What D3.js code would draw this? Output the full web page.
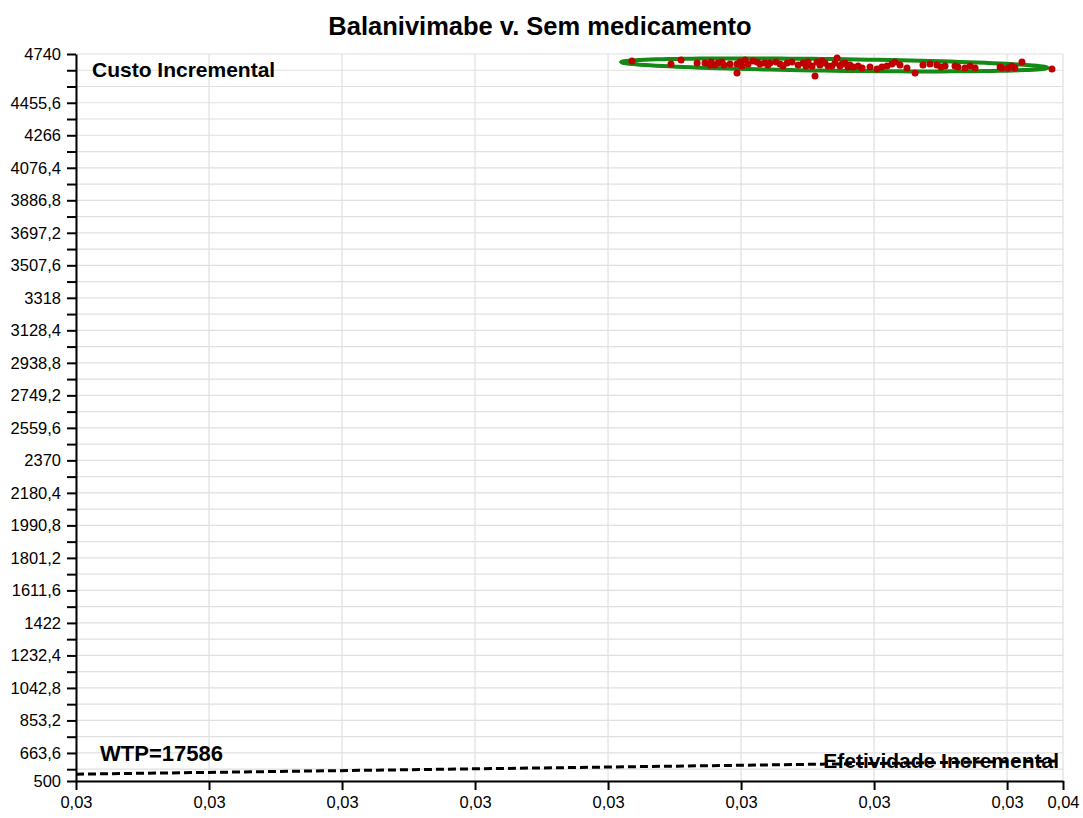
<!DOCTYPE html>
<html lang="pt">
<head>
<meta charset="utf-8">
<title>Balanivimabe v. Sem medicamento</title>
<script src="https://d3js.org/d3.v7.min.js"></script>
<style>
  body { margin: 0; background: #fff; }
  svg text { font-family: "Liberation Sans", Arial, Helvetica, sans-serif; fill: #000; }
  .grid line { stroke: #e0e0e0; stroke-width: 1.2; }
  .axis path, .axis line { stroke: #000; stroke-width: 2; }
  .axis text { font-size: 16.5px; }
  .big { font-weight: bold; font-size: 21px; }
</style>
</head>
<body>
<script>
// incremental effect (x) and incremental cost (y) of each simulation
var effect = [0.033166, 0.033339, 0.033384, 0.033455, 0.033490, 0.033517, 0.033534, 0.033565, 0.033574, 0.033601,
  0.033632, 0.033632, 0.033645, 0.033668, 0.033681, 0.033703, 0.033721, 0.033734, 0.033756, 0.033778,
  0.033805, 0.033823, 0.033854, 0.033876, 0.033903, 0.033925, 0.033947, 0.033965, 0.033978, 0.033987,
  0.034000, 0.034022, 0.034036, 0.034067, 0.034076, 0.034089, 0.034111, 0.034133, 0.034147, 0.034187,
  0.034222, 0.034253, 0.034275, 0.034297, 0.034319, 0.034333, 0.034355, 0.034386, 0.034422, 0.034457,
  0.034488, 0.034519, 0.034537, 0.034555, 0.034599, 0.034612, 0.034643, 0.034688, 0.034807, 0.034834,
  0.034865, 0.034896, 0.035029, 0.033512, 0.033548, 0.033654, 0.033769, 0.033836, 0.033938, 0.034009,
  0.034053, 0.034098, 0.034124, 0.034169, 0.034666, 0.034852, 0.034799];
var cost = [4699.2, 4681.7, 4705.0, 4687.5, 4687.5, 4693.4, 4675.9, 4693.4, 4675.9, 4681.7,
  4681.7, 4629.2, 4693.4, 4705.0, 4681.7, 4699.2, 4693.4, 4681.7, 4687.5, 4687.5,
  4693.4, 4681.7, 4687.5, 4693.4, 4675.9, 4687.5, 4693.4, 4670.0, 4611.8, 4693.4,
  4675.9, 4687.5, 4670.0, 4687.5, 4716.7, 4670.0, 4687.5, 4675.9, 4664.2, 4658.4,
  4664.2, 4652.5, 4664.2, 4670.0, 4681.7, 4693.4, 4675.9, 4658.4, 4629.2, 4675.9,
  4681.7, 4675.9, 4664.2, 4670.0, 4670.0, 4664.2, 4658.4, 4658.4, 4658.4, 4658.4,
  4658.4, 4693.4, 4652.5, 4675.9, 4687.5, 4670.0, 4675.9, 4670.0, 4670.0, 4699.2,
  4670.0, 4681.7, 4664.2, 4670.0, 4670.0, 4670.0, 4664.2];

var wtp = 17586; //willingness to pay threshold

// axis settings
var xDomain = [0.0307, 0.035078];
var xStep = 0.00059;
var yDomain = [500, 4740];
var yStep = 94.8;
// y values that get a label (the others only get a tick)
var yLabelled = [4740, 4455.6, 4266, 4076.4, 3886.8, 3697.2, 3507.6, 3318, 3128.4, 2938.8, 2749.2,
  2559.6, 2370, 2180.4, 1990.8, 1801.2, 1611.6, 1422, 1232.4, 1042.8, 853.2, 663.6, 500];

var width = 1083, height = 818;
var margin = {top: 54, right: 20, bottom: 37, left: 76};

var svg = d3.select("body").append("svg")
  .attr("width", width)
  .attr("height", height);

var x = d3.scaleLinear().domain(xDomain).range([margin.left, width - margin.right]);
var y = d3.scaleLinear().domain(yDomain).range([height - margin.bottom, margin.top]);

// tick positions
var xTicks = d3.range(0, 8).map(function(i){ return xDomain[0] + i * xStep; });
xTicks.push(xDomain[1]);
var yTicks = [];
for (var v = yDomain[1]; v > yDomain[0] + 1e-6; v -= yStep) yTicks.push(+v.toFixed(1));
yTicks.push(yDomain[0]);

function comma(s){ return s.replace(".", ","); }

// grid
var grid = svg.append("g").attr("class", "grid");
grid.selectAll(".h").data(yTicks).enter().append("line")
  .attr("x1", margin.left).attr("x2", width - margin.right)
  .attr("y1", function(d){ return y(d); }).attr("y2", function(d){ return y(d); });
grid.selectAll(".v").data(xTicks).enter().append("line")
  .attr("y1", margin.top).attr("y2", height - margin.bottom)
  .attr("x1", function(d){ return x(d); }).attr("x2", function(d){ return x(d); });

// axes
svg.append("g").attr("class", "axis")
  .attr("transform", "translate(" + margin.left + ",0)")
  .call(d3.axisLeft(y).tickValues(yTicks).tickSize(9).tickSizeOuter(0).tickPadding(6)
    .tickFormat(function(d){
      var lab = yLabelled.some(function(l){ return Math.abs(l - d) < 0.01; });
      return lab ? comma(String(+d.toFixed(1))) : "";
    }));

svg.append("g").attr("class", "axis")
  .attr("transform", "translate(0," + (height - margin.bottom) + ")")
  .call(d3.axisBottom(x).tickValues(xTicks).tickSize(9).tickSizeOuter(0).tickPadding(6)
    .tickFormat(function(d){ return comma(d3.format(".2f")(d)); }));

// title and axis names
svg.append("text")
  .attr("x", 540).attr("y", 35)
  .attr("text-anchor", "middle")
  .style("font-weight", "bold").style("font-size", "25.5px")
  .text("Balanivimabe v. Sem medicamento");

svg.append("text").attr("class", "big")
  .attr("x", 92).attr("y", 77)
  .text("Custo Incremental");

svg.append("text").attr("class", "big")
  .attr("x", width - 24).attr("y", 768)
  .attr("text-anchor", "end")
  .text("Efetividade Incremental");

svg.append("text").attr("class", "big")
  .attr("x", 100).attr("y", 761)
  .style("font-size", "22px")
  .text("WTP=17586");

// WTP line: cost = wtp * effect
svg.append("line")
  .attr("x1", x(xDomain[0])).attr("y1", y(wtp * xDomain[0]))
  .attr("x2", x(xDomain[1]) - 5).attr("y2", y(wtp * x.invert(x(xDomain[1]) - 5)))
  .attr("stroke", "#000")
  .attr("stroke-width", 3)
  .attr("stroke-dasharray", "8,4");

// confidence ellipse from the covariance of the points
var mx = d3.mean(effect), my = d3.mean(cost);
var n = effect.length;
var sxx = 0, syy = 0, sxy = 0;
for (var i = 0; i < n; i++) {
  sxx += (effect[i] - mx) * (effect[i] - mx);
  syy += (cost[i] - my) * (cost[i] - my);
  sxy += (effect[i] - mx) * (cost[i] - my);
}
sxx /= n - 1; syy /= n - 1; sxy /= n - 1;
var l11 = Math.sqrt(sxx), l21 = sxy / l11, l22 = Math.sqrt(syy - l21 * l21);
var k = 2.18; // radius in standard deviations
var ellipse = d3.range(0, 120).map(function(j){
  var t = j / 120 * 2 * Math.PI;
  var a = Math.cos(t), b = Math.sin(t);
  return [mx + k * l11 * a, my + k * (l21 * a + l22 * b)];
});

svg.append("path")
  .datum(ellipse)
  .attr("d", d3.line().x(function(d){ return x(d[0]); }).y(function(d){ return y(d[1]); }).curve(d3.curveLinearClosed))
  .attr("fill", "none")
  .attr("stroke", "#148a14")
  .attr("stroke-width", 4);

// points
svg.selectAll(".dot")
  .data(effect)
  .enter()
  .append("circle")
  .attr("class", "dot")
  .attr("cx", function(d){ return x(d); })
  .attr("cy", function(d, i){ return y(cost[i]); })
  .attr("r", 3.5)
  .attr("fill", "#c00000");
</script>
</body>
</html>
